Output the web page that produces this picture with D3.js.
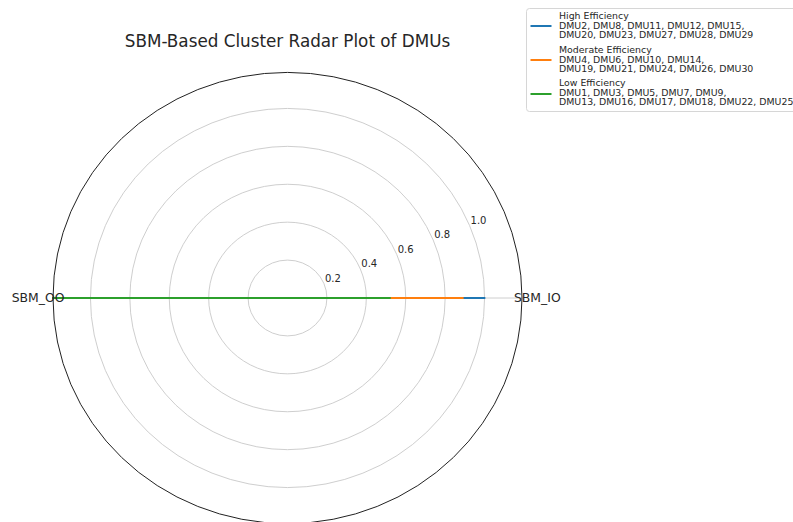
<!DOCTYPE html>
<html>
<head>
<meta charset="utf-8">
<script src="https://cdn.jsdelivr.net/npm/d3@7"></script>
<style>
  html, body { margin: 0; padding: 0; background: #ffffff; }
  svg { display: block; font-family: "DejaVu Sans", sans-serif; }
</style>
</head>
<body>
<svg id="chart" width="793" height="522"></svg>
<script>
// Radar axes (angle 0 = SBM_IO, angle pi = SBM_OO)
const axisNames = ["SBM_IO", "SBM_OO"];
const clusterNames = ["High Efficiency", "Moderate Efficiency", "Low Efficiency"];
const clusterMembers = [
  ["DMU2, DMU8, DMU11, DMU12, DMU15,", "DMU20, DMU23, DMU27, DMU28, DMU29"],
  ["DMU4, DMU6, DMU10, DMU14,", "DMU19, DMU21, DMU24, DMU26, DMU30"],
  ["DMU1, DMU3, DMU5, DMU7, DMU9,", "DMU13, DMU16, DMU17, DMU18, DMU22, DMU25"]
];
const sbmIO = [1.0, 0.89, 0.52];
const sbmOO = [1.19, 1.19, 1.19];
const radialTicks = [0.2, 0.4, 0.6, 0.8, 1.0];
const colors = ["#1f77b4", "#ff7f0e", "#2ca02c"];

const svg = d3.select("#chart");
const cx = 287.5, cy = 298;
const ky = 0.962;           // vertical stretch of the polar frame
const rMax = d3.max(sbmIO.concat(sbmOO));
const r = d3.scaleLinear().domain([0, rMax]).range([0, 234.5]);
const angle = d3.scalePoint().domain(axisNames).range([0, Math.PI * 2]).padding(0);
// two axes: 0 and pi
const angleOf = name => axisNames.indexOf(name) * (2 * Math.PI / axisNames.length);
const px = (a, v) => cx + r(v) * Math.cos(a);
const py = (a, v) => cy - r(v) * Math.sin(a) * ky;

// Title
svg.append("text")
  .attr("x", cx).attr("y", 47)
  .attr("text-anchor", "middle")
  .attr("font-size", 16.8)
  .attr("fill", "#262626")
  .text("SBM-Based Cluster Radar Plot of DMUs");

// Radial grid rings
const grid = svg.append("g");
grid.selectAll("ellipse.ring")
  .data(radialTicks)
  .join("ellipse")
  .attr("class", "ring")
  .attr("cx", cx).attr("cy", cy)
  .attr("rx", d => r(d)).attr("ry", d => r(d) * ky)
  .attr("fill", "none")
  .attr("stroke", "#c8c8c8")
  .attr("stroke-width", 0.9);

// Angular grid lines
grid.selectAll("line.spoke")
  .data(axisNames)
  .join("line")
  .attr("class", "spoke")
  .attr("x1", cx).attr("y1", cy)
  .attr("x2", d => px(angleOf(d), rMax))
  .attr("y2", d => py(angleOf(d), rMax))
  .attr("stroke", "#c8c8c8")
  .attr("stroke-width", 0.9);

// Radial tick labels at 22.5 degrees
const labAngle = 22.5 * Math.PI / 180;
grid.selectAll("text.rtick")
  .data(radialTicks)
  .join("text")
  .attr("class", "rtick")
  .attr("x", d => px(labAngle, d) + 1)
  .attr("y", d => py(labAngle, d) - 1.5)
  .attr("font-size", 10)
  .attr("fill", "#262626")
  .text(d => d.toFixed(1));

// Series lines (closed polygon through both axes)
const line = d3.line().x(d => d[0]).y(d => d[1]);
clusterNames.forEach((name, i) => {
  const vals = [sbmIO[i], sbmOO[i]];
  const pts = axisNames.map((a, j) => [px(angleOf(a), vals[j]), py(angleOf(a), vals[j])]);
  pts.push(pts[0]);
  svg.append("path")
    .attr("d", line(pts) + "Z")
    .attr("fill", colors[i])
    .attr("fill-opacity", 0.25)
    .attr("stroke", colors[i])
    .attr("stroke-width", 2)
    .attr("stroke-linejoin", "round");
});

// Outer frame
svg.append("ellipse")
  .attr("cx", cx).attr("cy", cy)
  .attr("rx", r(rMax)).attr("ry", r(rMax) * ky)
  .attr("fill", "none")
  .attr("stroke", "#222")
  .attr("stroke-width", 1);

// Axis labels
svg.append("text")
  .attr("x", 514).attr("y", cy)
  .attr("dy", "0.35em")
  .attr("font-size", 12.4)
  .attr("fill", "#262626")
  .text(axisNames[0]);
svg.append("text")
  .attr("x", 11.7).attr("y", cy)
  .attr("dy", "0.35em")
  .attr("font-size", 12.4)
  .attr("fill", "#262626")
  .text(axisNames[1]);

// Legend
const legend = svg.append("g");
legend.append("rect")
  .attr("x", 526.5).attr("y", 8.5)
  .attr("width", 300).attr("height", 103)
  .attr("rx", 3)
  .attr("fill", "#ffffff").attr("fill-opacity", 0.8)
  .attr("stroke", "#d6d6d6").attr("stroke-width", 1);

const entryTop = [19, 53, 86];
const handleY = [26, 60, 94];
clusterNames.forEach((name, i) => {
  legend.append("line")
    .attr("x1", 530.5).attr("x2", 551.5)
    .attr("y1", handleY[i]).attr("y2", handleY[i])
    .attr("stroke", colors[i]).attr("stroke-width", 2);
  const lines = [name].concat(clusterMembers[i]);
  legend.append("text")
    .attr("x", 559)
    .attr("y", entryTop[i])
    .attr("font-size", 9.4)
    .attr("fill", "#262626")
    .selectAll("tspan")
    .data(lines)
    .join("tspan")
    .attr("x", 559)
    .attr("dy", (d, j) => j === 0 ? 0 : 9.6)
    .text(d => d);
});
</script>
</body>
</html>
